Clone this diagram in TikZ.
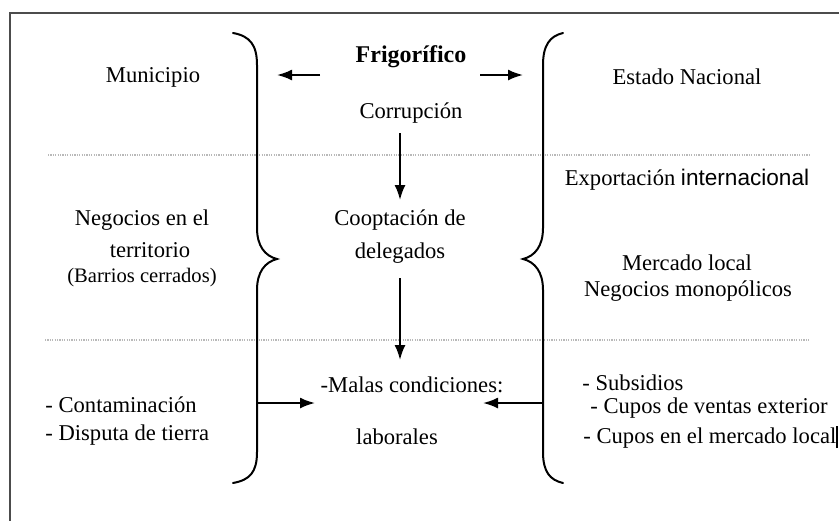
\documentclass[tikz,border=0pt]{standalone}
\usepackage{fontspec}
\setmainfont{Liberation Serif}
\newfontfamily\arialfont{Liberation Sans}
\usetikzlibrary{arrows.meta}
\begin{document}
\begin{tikzpicture}[x=0.5pt,y=-0.5pt,
  txt/.style={inner sep=0pt, font=\fontsize{11.3}{13}\selectfont},
  bracestroke/.style={line width=1pt, line cap=round},
  arr/.style={line width=1pt, -{Latex[length=7.5pt,width=5.5pt]}},
  sepline/.style={gray!55, line width=0.6pt, dash pattern=on 0.6pt off 0.6pt},
  framestroke/.style={draw=black!70, line width=1.2pt}]
\useasboundingbox (0,0) rectangle (839,520);
\fill[white] (0,0) rectangle (839,520);
\draw[framestroke] (10,530) -- (10,13) -- (850,13);
% dotted separators
\draw[sepline] (48,155) -- (810,155);
\draw[sepline] (45,340) -- (810,340);
% braces
\draw[bracestroke] (233,33) .. controls (250,36) and (257,45) .. (257,65)
  -- (257,228) .. controls (257,246) and (265,256) .. (277,259)
  .. controls (265,262) and (257,272) .. (257,290)
  -- (257,452) .. controls (257,472) and (250,480) .. (233,483);
\draw[bracestroke] (563,33) .. controls (550,36) and (543,45) .. (543,65)
  -- (543,228) .. controls (543,246) and (535,256) .. (523,259)
  .. controls (535,262) and (543,272) .. (543,290)
  -- (543,452) .. controls (543,472) and (550,480) .. (563,483);
% texts
\node[txt] (muni) at (153,77) {Municipio};
\node[txt, font=\fontsize{12}{14}\selectfont\bfseries] (frig) at (411,57) {Frigorífico};
\node[txt] (corr) at (411,113) {Corrupción};
\node[txt] (estado) at (687,77) {Estado Nacional};
\node[txt] (export) at (687,180) {Exportación {\arialfont internacional}};
\node[txt] (neg1) at (142,220) {Negocios en el};
\node[txt] (neg2) at (150,250) {territorio};
\node[txt, font=\fontsize{10.3}{12}\selectfont] (neg3) at (142,278) {(Barrios cerrados)};
\node[txt] (coop1) at (400,220) {Cooptación de};
\node[txt] (coop2) at (400,253) {delegados};
\node[txt] (merc1) at (687,263) {Mercado local};
\node[txt] (merc2) at (688,291) {Negocios monopólicos};
\node[txt] (malas) at (412,385) {-Malas condiciones:};
\node[txt] (labor) at (397,437) {laborales};
\node[txt, anchor=west] (cont) at (45,405) {- Contaminación};
\node[txt, anchor=west] (disp) at (45,435) {- Disputa de tierra};
\node[txt, anchor=west] (subs) at (582,383) {- Subsidios};
\node[txt, anchor=west] (cupv) at (590,408) {- Cupos de ventas exterior};
\node[txt, anchor=west] (cupm) at (583,437) {- Cupos en el mercado local\rule[-0.2em]{0.6pt}{1em}};
% connector end points
\coordinate (fl) at (320,75);  \coordinate (flt) at (277,75);
\coordinate (fr) at (480,75);  \coordinate (frt) at (523,75);
\coordinate (d1s) at (400,133); \coordinate (d1e) at (400,200);
\coordinate (d2s) at (400,278); \coordinate (d2e) at (400,360);
\coordinate (lb) at (257,403); \coordinate (lbt) at (315,403);
\coordinate (rb) at (543,403); \coordinate (rbt) at (483,403);
% arrows
\draw[arr] (fl) -- (flt);
\draw[arr] (fr) -- (frt);
\draw[arr] (d1s) -- (d1e);
\draw[arr] (d2s) -- (d2e);
\draw[arr] (lb) -- (lbt);
\draw[arr] (rb) -- (rbt);
\end{tikzpicture}
\end{document}
